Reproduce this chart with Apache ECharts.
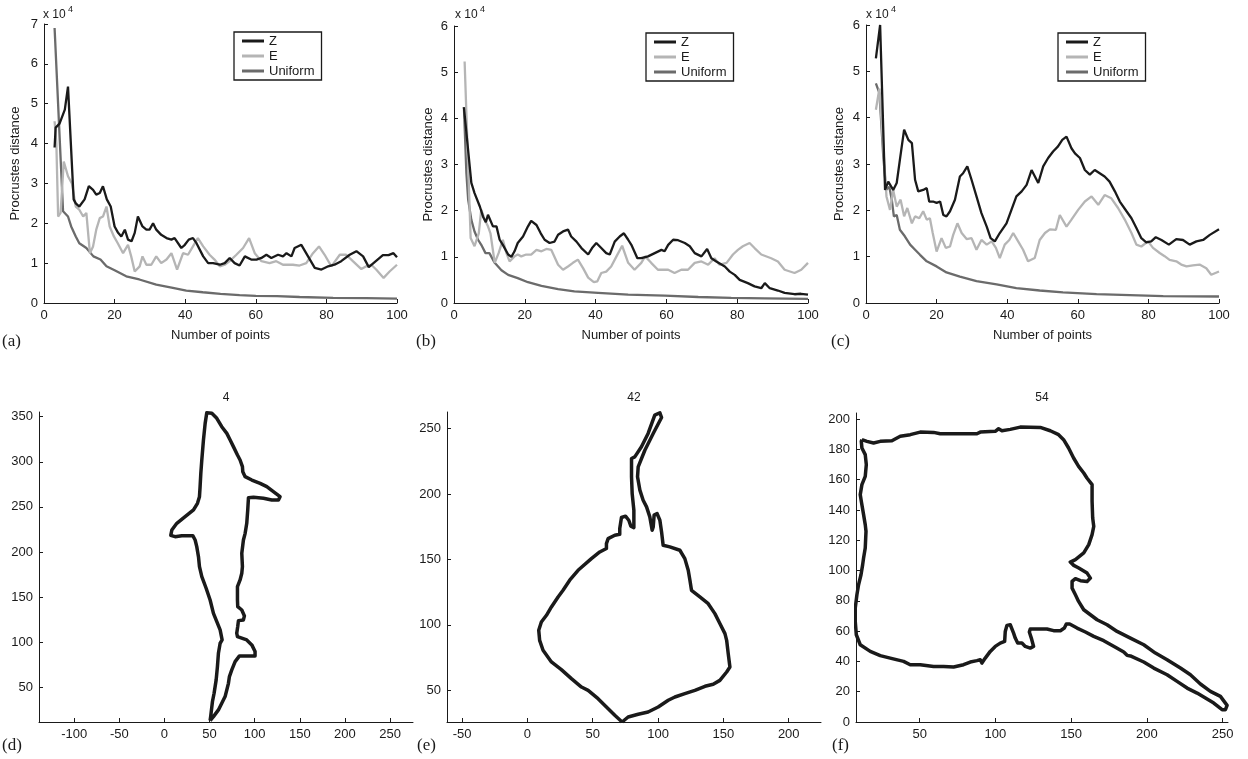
<!DOCTYPE html>
<html lang="en">
<head>
<meta charset="UTF-8">
<title>Procrustes distance</title>
<style>
    html, body { margin: 0; width: 100%; height: 100%; background: #fff; overflow: hidden; }
    #container { width: 1248px; height: 759px; }
</style>
</head>
<body>
<div id="container"></div>
<script src="https://cdn.jsdelivr.net/npm/echarts@6/dist/echarts.min.js"></script>
<script>
    // values are in units of 1e4, pairs are [number of points, distance]
    var zA = [[3,3.9],[3.3,4.4],[4.4,4.5],[5.9,4.85],[6.8,5.43],[8.4,2.6],[9,2.5],[10,2.42],[11.5,2.6],[12.7,2.93],[13.9,2.84],[14.8,2.72],[15.8,2.76],[16.7,2.93],[17.8,2.6],[18.9,2.42],[20,1.92],[21,1.76],[21.9,1.67],[22.9,1.84],[23.8,1.59],[24.8,1.55],[25.7,1.76],[26.6,2.17],[27.9,1.92],[29,1.84],[29.9,1.84],[30.9,2.0],[31.8,1.84],[33.2,1.71],[34.7,1.63],[36.1,1.59],[37,1.63],[38.9,1.38],[39.9,1.46],[41,1.59],[42.2,1.63],[43.2,1.5],[45.1,1.17],[46.5,1.0],[47.9,1.0],[49.8,0.96],[51.2,1.0],[52.6,1.13],[54,1.0],[55.4,0.94],[56.9,1.17],[58.7,1.09],[60.2,1.09],[61.6,1.13],[63,1.21],[64.4,1.13],[66.3,1.21],[67.7,1.17],[68.7,1.25],[70.1,1.17],[71,1.38],[72.9,1.46],[74.8,1.17],[76.7,0.88],[78.6,0.84],[80.5,0.92],[82.3,0.96],[84.2,1.05],[86.6,1.21],[88.5,1.3],[90.4,1.17],[92,0.9],[94,1.05],[96,1.2],[97.6,1.2],[99,1.25],[100,1.15]];
    var eA = [[3,4.56],[3.5,4.0],[4,2.17],[4.7,2.26],[5.6,3.55],[6.8,3.18],[7.9,3.0],[9,2.42],[10,2.34],[11.1,2.17],[12,2.26],[13,1.25],[13.9,1.42],[14.8,1.84],[15.8,2.13],[16.7,2.17],[17.7,2.42],[18.6,1.92],[19.8,1.67],[20.9,1.5],[22.4,1.25],[23.8,1.46],[24.7,1.17],[25.7,0.79],[27.1,0.92],[27.9,1.17],[29,0.96],[30.4,0.96],[31.8,1.17],[33.2,1.0],[34.7,1.09],[36.1,1.25],[37.7,0.84],[39.4,1.25],[40.8,1.21],[42.2,1.42],[43.6,1.63],[45.1,1.42],[46.9,1.21],[48.3,1.09],[49.8,0.92],[51.2,0.96],[52.6,1.05],[54.5,1.21],[56.4,1.38],[58.1,1.63],[59.7,1.25],[61.6,1.05],[63.9,1.0],[65.8,1.05],[67.7,0.96],[70.5,0.96],[72.4,0.94],[74.3,1.0],[76.2,1.25],[77.9,1.42],[79.5,1.21],[81.4,0.92],[83.8,1.21],[85.6,1.21],[87.5,1.05],[89.9,0.85],[91.3,0.92],[92.7,0.96],[94.1,0.84],[96.2,0.63],[97.9,0.79],[100,0.96]];
    var uA = [[3,6.9],[5.4,2.3],[6.8,2.17],[7.7,1.92],[9,1.67],[10,1.5],[12,1.38],[14,1.17],[16,1.09],[17.7,0.92],[20,0.82],[23.3,0.67],[27,0.59],[31.8,0.46],[36.5,0.38],[40.3,0.31],[45,0.27],[50,0.23],[55.4,0.2],[60,0.18],[66,0.17],[72.4,0.15],[81.9,0.13],[91.3,0.12],[100,0.11]];

    var zB = [[2.8,4.24],[4.9,2.6],[5.8,2.38],[7.3,2.09],[8.2,1.87],[9,1.75],[9.6,1.91],[11,1.66],[12,1.66],[12.9,1.37],[13.8,1.26],[15.3,1.05],[16.2,1.0],[17.1,1.12],[18,1.3],[19.5,1.44],[20.9,1.66],[21.8,1.78],[23.3,1.69],[24.5,1.51],[25.6,1.37],[27,1.3],[28.4,1.33],[29.4,1.48],[30.8,1.55],[32.2,1.59],[33.1,1.44],[34.6,1.33],[36,1.19],[37.9,1.05],[39,1.19],[40.2,1.3],[41.6,1.19],[43,1.08],[44,1.05],[45.4,1.33],[46.8,1.44],[48,1.51],[49.2,1.37],[50.1,1.26],[51.8,0.97],[52.9,0.97],[54.8,1.01],[56.7,1.08],[58.6,1.15],[59.5,1.12],[60.5,1.26],[61.9,1.37],[63.3,1.36],[65.2,1.3],[66.6,1.23],[68,1.08],[69.9,1.01],[71.5,1.17],[72.7,0.97],[74.1,0.9],[76.5,0.79],[77.9,0.68],[79.3,0.61],[80.7,0.5],[83,0.43],[84.9,0.36],[86.8,0.32],[87.8,0.43],[89.2,0.32],[91.5,0.27],[93.4,0.22],[96.2,0.19],[98,0.2],[100,0.18]];
    var eB = [[3,5.23],[4.7,1.41],[5.8,1.23],[7,1.51],[7.7,2.02],[8.7,1.8],[9.6,1.66],[10.3,1.51],[11.5,0.87],[12.6,1.08],[13.8,1.37],[14.8,1.08],[15.7,0.9],[17.1,1.01],[18,1.05],[19,1.01],[20.4,1.05],[21.8,1.05],[23.3,1.15],[24.7,1.12],[26.1,1.17],[27.5,1.15],[29.4,0.83],[30.8,0.72],[32.2,0.79],[33.6,0.87],[35,0.94],[36.5,0.75],[37.9,0.55],[39.5,0.45],[40.5,0.47],[41.6,0.65],[43,0.68],[44.4,0.79],[45.9,1.01],[47.5,1.24],[49.2,0.87],[51,0.72],[52.9,0.87],[54,1.01],[55.7,0.87],[57.6,0.72],[60.5,0.72],[62.3,0.65],[64.2,0.72],[66.1,0.72],[68,0.87],[69.9,0.9],[71.8,0.83],[73.6,0.97],[75,0.83],[77,0.87],[78.8,1.05],[80.2,1.15],[81.6,1.23],[83.5,1.3],[84.9,1.19],[86.8,1.05],[89.6,0.97],[91.5,0.9],[93.4,0.72],[96.2,0.65],[98.1,0.72],[100,0.87]];
    var uB = [[2.8,4.24],[3.5,2.81],[4,2.24],[4.9,1.8],[5.8,1.55],[6.8,1.37],[7.7,1.26],[8.9,1.08],[10,1.08],[11.5,0.87],[13.4,0.71],[15.3,0.61],[18,0.54],[20.9,0.45],[24.7,0.37],[29.4,0.3],[34,0.25],[40.7,0.22],[49.2,0.18],[59.5,0.16],[69,0.13],[78.3,0.11],[87.8,0.1],[100,0.09]];

    var zC = [[2.8,5.28],[4,6.0],[5.4,2.44],[6.3,2.62],[7.7,2.44],[8.7,2.59],[9.6,3.09],[10.8,3.74],[12,3.52],[13,3.45],[13.9,2.66],[14.8,2.41],[16.2,2.44],[17.2,2.48],[17.9,2.19],[19,2.19],[20,2.16],[21,2.19],[21.9,1.9],[22.8,1.87],[23.8,1.98],[25.2,2.23],[26.6,2.73],[27.5,2.8],[28.7,2.95],[29.9,2.66],[31.3,2.3],[32.7,1.94],[34.2,1.65],[35.3,1.4],[36.5,1.33],[37.9,1.51],[39.8,1.72],[41.2,2.01],[42.6,2.3],[44.1,2.41],[45.5,2.55],[46.9,2.87],[48.8,2.59],[50.2,2.95],[51.6,3.13],[53,3.27],[54.4,3.38],[55.6,3.52],[56.8,3.59],[58.2,3.34],[59.2,3.23],[60.6,3.13],[62,2.87],[63.4,2.77],[64.8,2.87],[66.2,2.8],[67.6,2.73],[69,2.62],[70.5,2.41],[71.9,2.19],[73.8,1.98],[75.2,1.83],[76.6,1.62],[78,1.4],[79.4,1.31],[80.8,1.33],[82.1,1.42],[83.7,1.36],[85.8,1.26],[87.9,1.38],[89.8,1.36],[91.7,1.26],[93.6,1.33],[95.5,1.36],[97.4,1.47],[100,1.59]];
    var eC = [[2.8,4.17],[3.8,4.63],[5.8,2.3],[6.8,2.01],[7.7,2.44],[8.7,2.08],[9.8,2.23],[10.8,1.87],[11.7,2.05],[13,1.72],[13.9,1.87],[15.1,1.83],[16.2,1.98],[17.2,1.8],[18.1,1.83],[18.9,1.51],[20,1.11],[21.4,1.4],[22.6,1.19],[23.8,1.22],[24.7,1.47],[25.9,1.72],[27.1,1.51],[28.5,1.38],[29.9,1.4],[31.3,1.15],[32.7,1.36],[34.2,1.26],[35.6,1.33],[36.8,1.19],[37.9,0.97],[39.3,1.26],[40.6,1.36],[41.7,1.51],[43.1,1.33],[44.5,1.15],[45.9,0.9],[47.8,0.97],[49.2,1.36],[50.7,1.51],[52.1,1.59],[53.8,1.58],[54.9,1.9],[56.8,1.65],[58.2,1.8],[60.1,2.01],[62,2.19],[63.9,2.3],[65.8,2.12],[67.6,2.33],[69.5,2.26],[71.4,2.05],[73.3,1.8],[75.2,1.51],[76.6,1.26],[78,1.22],[79.9,1.33],[81.3,1.19],[83.2,1.08],[84.6,1.01],[86,0.93],[87.9,0.9],[89.3,0.83],[90.8,0.79],[92.6,0.81],[94.5,0.83],[96.4,0.75],[97.8,0.61],[100,0.68]];
    var uC = [[2.8,4.74],[3.8,4.53],[4.9,3.16],[5.7,2.44],[6.6,2.51],[7.3,2.23],[7.9,1.87],[8.7,1.9],[9.6,1.58],[11,1.44],[12.5,1.26],[13.9,1.15],[15.3,1.04],[17.2,0.9],[20,0.79],[22.8,0.66],[26.6,0.57],[31.3,0.47],[37,0.4],[42.6,0.32],[49.2,0.27],[55.8,0.23],[65.3,0.19],[74.7,0.17],[84.2,0.15],[100,0.14]];

    // outlines of the three example shapes
    var shape4 = [[50.6,13.1],[51.3,18.3],[53.2,34.2],[55,43.4],[57.3,58.2],[58.7,72.9],[59.8,87.7],[61.7,98.8],[63.9,102.5],[61.7,113.6],[58,122.8],[54.3,132],[50.6,146.8],[46.2,159.8],[41.4,172.7],[38.8,183.8],[37.7,194.8],[35.8,205.9],[34,213.3],[31.4,218.1],[19.2,218.1],[11.8,217],[7,218.5],[8.2,224.4],[13.7,231.8],[22.9,239.2],[32.2,246.6],[36.6,254],[38.8,261.3],[39.5,272.4],[40.3,287.2],[41.4,302],[43.2,324.1],[45.1,342.6],[46.9,354.4],[52.5,353.7],[58,348.2],[63.5,338.9],[69.1,331.5],[72.8,324.1],[76.4,316.8],[80.9,307.5],[83.8,302],[86.4,294.6],[86.8,289],[89.4,283.5],[96.8,279.8],[106,276.1],[113.4,272.4],[120.7,266.9],[128.1,261.3],[126.3,257.6],[118.9,257.6],[109.7,259.5],[98.6,260.6],[93.1,260.2],[92.3,246.6],[91.2,231.8],[89.4,220.7],[87.5,213.3],[85.7,198.5],[86.4,183.8],[85.7,176.4],[83.8,169],[80.9,161.6],[80.9,146.8],[81.2,139.4],[85.7,135.7],[88.6,129.1],[87.5,124.7],[82,123.9],[81.2,117.3],[80.1,109.9],[80.9,106.2],[91.2,102.5],[96.8,97],[100.4,89.6],[100.4,84.8],[91.2,84.8],[83.1,84.8],[78.3,78.5],[74.6,69.2],[72,61.9],[70.9,54.4],[69.1,47.1],[67.2,39.7],[63.5,32.3],[59.8,24.9],[54.3,17.5],[50.6,13.1]];
    var shape42 = [[72.5,25.8],[66.9,30.9],[60.5,37.3],[54.1,43.6],[46.5,50],[41.4,52.5],[33.7,58.9],[26,65.8],[18.4,71.7],[12,80.6],[9.4,88.2],[8.7,95.9],[10.7,102.2],[14.6,107.3],[18.4,113.7],[23.5,121.3],[27.3,126.4],[32.4,134.1],[38.8,141.7],[49,150.6],[55.4,155.7],[60.5,158.3],[60.5,162.1],[61.8,165.9],[66.9,168.5],[70.7,169.2],[70.7,173.6],[72,182],[75.1,183],[77.6,179.9],[79.2,175.4],[81.5,174.3],[81.5,187.6],[80.2,200.3],[79.7,213.1],[79.7,227.1],[82.2,228.3],[87.3,236],[92.4,246.2],[97.5,260.2],[101.4,262],[102.7,258.4],[96.3,246.2],[89.9,233.4],[84.8,220.7],[84.3,213.1],[86.1,202.9],[88.6,195.2],[91.2,190.1],[93.7,182.5],[95.5,172.3],[96.3,174.8],[97,183.8],[99.3,185],[101.4,179.9],[102.7,171],[103.9,160.8],[109,159.6],[116.7,157],[120.5,150.6],[123.1,141.7],[124.4,134.1],[125.6,126.4],[132,121.3],[138.4,116.2],[143.5,108.6],[147.3,101],[151.2,93.3],[152.5,88.2],[153.7,78],[155,67.8],[152.5,64],[147.3,57.6],[142.2,54.6],[135.9,53.1],[128.2,50],[120.5,47.5],[112.9,44.9],[107.8,42.4],[100.1,37.3],[92.4,33.4],[84.8,31.7],[77.1,29.6],[72.5,25.8]];
    var shape54 = [[11.9,186.4],[15.2,185.3],[19.6,184.2],[24,185.3],[31.7,185.7],[37.2,188.6],[43.8,189.7],[50.4,191.4],[59.2,191.2],[63.6,190.3],[87.8,190.3],[90,191.4],[99.9,191.9],[102.1,193.6],[104.3,192.3],[109.8,193.2],[116.4,194.7],[129.6,194.5],[136.2,192.3],[141.7,189.7],[145,186.4],[148.3,180.9],[151.6,174.3],[154.9,168.8],[158.3,164.4],[160.4,161.1],[163.8,156.7],[163.8,145.7],[164.2,134.7],[164.9,129.2],[163.8,123.7],[161.6,117.1],[158.3,111.6],[152.8,107.2],[149.4,105.6],[151.7,103.4],[155,101.7],[160.5,98.3],[162.7,95],[160.5,92.8],[156.1,93.3],[152.8,94.6],[150.6,92.8],[150.6,88.4],[152.8,84],[154.9,79.6],[158.3,74.1],[162.7,70.8],[167.1,67.5],[173.7,64.2],[180.3,59.8],[189.1,55.4],[197.9,51],[205.6,45.5],[213.3,41.1],[222.1,35.6],[228.7,31.2],[235.3,25.1],[241.9,20.2],[248.5,16.9],[252.9,11],[251.8,8.1],[249.6,8.1],[244.1,12.5],[238.6,15.8],[233.1,19.1],[226.5,22.4],[219.9,26.8],[213.3,31.2],[204.5,35.6],[197.9,39.6],[189.1,43.6],[186.9,44],[184.7,46.2],[179.2,49.3],[171.5,53.7],[164.9,56.5],[159.4,59.4],[153.9,62],[149,64.7],[146.8,64.7],[145.5,62],[142.9,60.3],[138.4,60.3],[134,61.4],[128.5,61.4],[123,61.4],[122.4,59.4],[123.7,55.4],[125.2,49.9],[123,48.8],[119.7,49.9],[117.5,52.1],[114.7,52.1],[113.1,55.4],[112,58.7],[109.8,64.2],[107.6,63.8],[106.5,59.8],[106.1,53.2],[103.2,52.1],[99.9,49.9],[96.6,46.6],[93.3,42.2],[91.1,38.9],[90,41.1],[87.8,40.5],[83.4,39.6],[79,37.8],[72.4,36.3],[65.8,36.7],[59.2,36.7],[50.4,37.8],[43.8,37.8],[39.4,40],[30.6,42.2],[24,43.8],[17.4,46.6],[10.8,51],[8.2,57.6],[7.5,66.4],[7.5,75.2],[8.6,84],[9.7,90.6],[11.3,97.2],[12.4,103.9],[13,108.3],[14.1,114.9],[14.6,125.9],[14.1,130.3],[13,136.9],[11.5,145.7],[10.8,150.1],[11.9,156.7],[14.1,162.2],[14.8,169.9],[14.1,176.5],[11.9,180.9],[11.5,185.3],[11.9,186.4]];

    var seriesNames = ['Z', 'E', 'Uniform'];
    var panelLabels = ['(a)', '(b)', '(c)', '(d)', '(e)', '(f)'];
    var shapeTitles = ['4', '42', '54'];
    var yMaxTop = [7, 6, 6];
    var ticksD = {x: [-100, -50, 0, 50, 100, 150, 200, 250], y: [50, 100, 150, 200, 250, 300, 350]};
    var ticksE = {x: [-50, 0, 50, 100, 150, 200], y: [50, 100, 150, 200, 250]};
    var ticksF = {x: [50, 100, 150, 200, 250], y: [0, 20, 40, 60, 80, 100, 120, 140, 160, 180, 200]};

    var ink = '#1a1a1a';
    var lineColors = ['#1a1a1a', '#b5b5b5', '#6b6b6b'];
    var sans = '"Liberation Sans", Arial, sans-serif';
    var serif = '"Liberation Serif", "Times New Roman", serif';

    var grids = [
        {left: 44, top: 24, width: 353, height: 279},
        {left: 454, top: 26, width: 354, height: 277},
        {left: 866, top: 25, width: 353, height: 278},
        {left: 39, top: 412, width: 374, height: 310},
        {left: 447, top: 412, width: 374, height: 310},
        {left: 856, top: 413, width: 372, height: 309}
    ];

    function baseAxis(i) {
        return {
            gridIndex: i,
            type: 'value',
            axisLine: {show: true, onZero: false, lineStyle: {color: ink, width: 1}},
            axisTick: {show: true, inside: true, length: 4, lineStyle: {color: ink}},
            axisLabel: {color: ink, fontSize: 13, fontFamily: sans, margin: 6},
            splitLine: {show: false}
        };
    }

    var xAxes = [], yAxes = [];
    for (var i = 0; i < 3; i++) {
        var xa = baseAxis(i);
        xa.min = 0; xa.max = 100; xa.interval = 20;
        xa.name = 'Number of points';
        xa.nameLocation = 'middle';
        xa.nameGap = 26;
        xa.nameTextStyle = {color: ink, fontSize: 13, fontFamily: sans};
        xAxes.push(xa);
        var ya = baseAxis(i);
        ya.min = 0; ya.max = yMaxTop[i]; ya.interval = 1;
        ya.name = 'Procrustes distance';
        ya.nameLocation = 'middle';
        ya.nameGap = [22, 19, 20][i];
        ya.nameTextStyle = {color: ink, fontSize: 13, fontFamily: sans};
        yAxes.push(ya);
    }
    var shapeAxes = [
        {x: [-139, 275.4], y: [11.5, 355.2], t: ticksD},
        {x: [-61.5, 224.7], y: [25.8, 262.6], t: ticksE},
        {x: [8, 253.5], y: [0, 204], t: ticksF}
    ];
    shapeAxes.forEach(function (s, k) {
        var xa = baseAxis(3 + k);
        xa.min = s.x[0]; xa.max = s.x[1];
        xa.axisTick.customValues = s.t.x;
        xa.axisLabel.customValues = s.t.x;
        xAxes.push(xa);
        var ya = baseAxis(3 + k);
        ya.min = s.y[0]; ya.max = s.y[1];
        ya.axisTick.customValues = s.t.y;
        ya.axisLabel.customValues = s.t.y;
        yAxes.push(ya);
    });

    var topData = [[zA, eA, uA], [zB, eB, uB], [zC, eC, uC]];
    var series = [];
    topData.forEach(function (set, p) {
        set.forEach(function (d, k) {
            series.push({
                name: seriesNames[k],
                type: 'line',
                xAxisIndex: p,
                yAxisIndex: p,
                data: d,
                symbol: 'none',
                silent: true,
                z: 3 - k,
                lineStyle: {color: lineColors[k], width: 2.3},
                itemStyle: {color: lineColors[k]}
            });
        });
    });
    [shape4, shape42, shape54].forEach(function (d, k) {
        series.push({
            name: 'shape ' + shapeTitles[k],
            type: 'line',
            xAxisIndex: 3 + k,
            yAxisIndex: 3 + k,
            data: d,
            symbol: 'none',
            clip: false,
            silent: true,
            lineStyle: {color: ink, width: 3.5, join: 'round'}
        });
    });

    var legendPos = [[234, 32], [646, 33], [1058, 33]];
    var legends = legendPos.map(function (p) {
        return {
            data: seriesNames.map(function (n) { return {name: n, icon: 'rect'}; }),
            left: p[0], top: p[1],
            orient: 'vertical',
            itemWidth: 22, itemHeight: 3, itemGap: 1,
            padding: [2, 7, 2, 8],
            backgroundColor: '#fff',
            borderColor: ink, borderWidth: 1.3,
            selectedMode: false,
            textStyle: {color: ink, fontSize: 13, fontFamily: sans, lineHeight: 14}
        };
    });

    var graphics = [];
    var labelPos = [[2, 333], [416, 333], [831, 333], [2, 737], [417, 737], [832, 737]];
    panelLabels.forEach(function (t, k) {
        graphics.push({type: 'text', x: labelPos[k][0], y: labelPos[k][1],
            style: {text: t, font: '17px ' + serif, fill: ink}});
    });
    var expPos = [[43, 9], [455, 9], [866, 9]];
    expPos.forEach(function (p) {
        graphics.push({type: 'text', x: p[0], y: p[1], style: {text: 'x 10', font: '12px ' + sans, fill: ink}});
        graphics.push({type: 'text', x: p[0] + 25, y: p[1] - 4, style: {text: '4', font: '9px ' + sans, fill: ink}});
    });
    var titleX = [226, 634, 1042];
    shapeTitles.forEach(function (t, k) {
        graphics.push({type: 'text', x: titleX[k], y: 392,
            style: {text: t, font: '12px ' + sans, fill: ink, textAlign: 'center'}});
    });

    var myChart = echarts.init(document.getElementById('container'));
    myChart.setOption({
        animation: false,
        backgroundColor: '#fff',
        grid: grids,
        xAxis: xAxes,
        yAxis: yAxes,
        legend: legends,
        series: series,
        graphic: graphics
    });
</script>
</body>
</html>
